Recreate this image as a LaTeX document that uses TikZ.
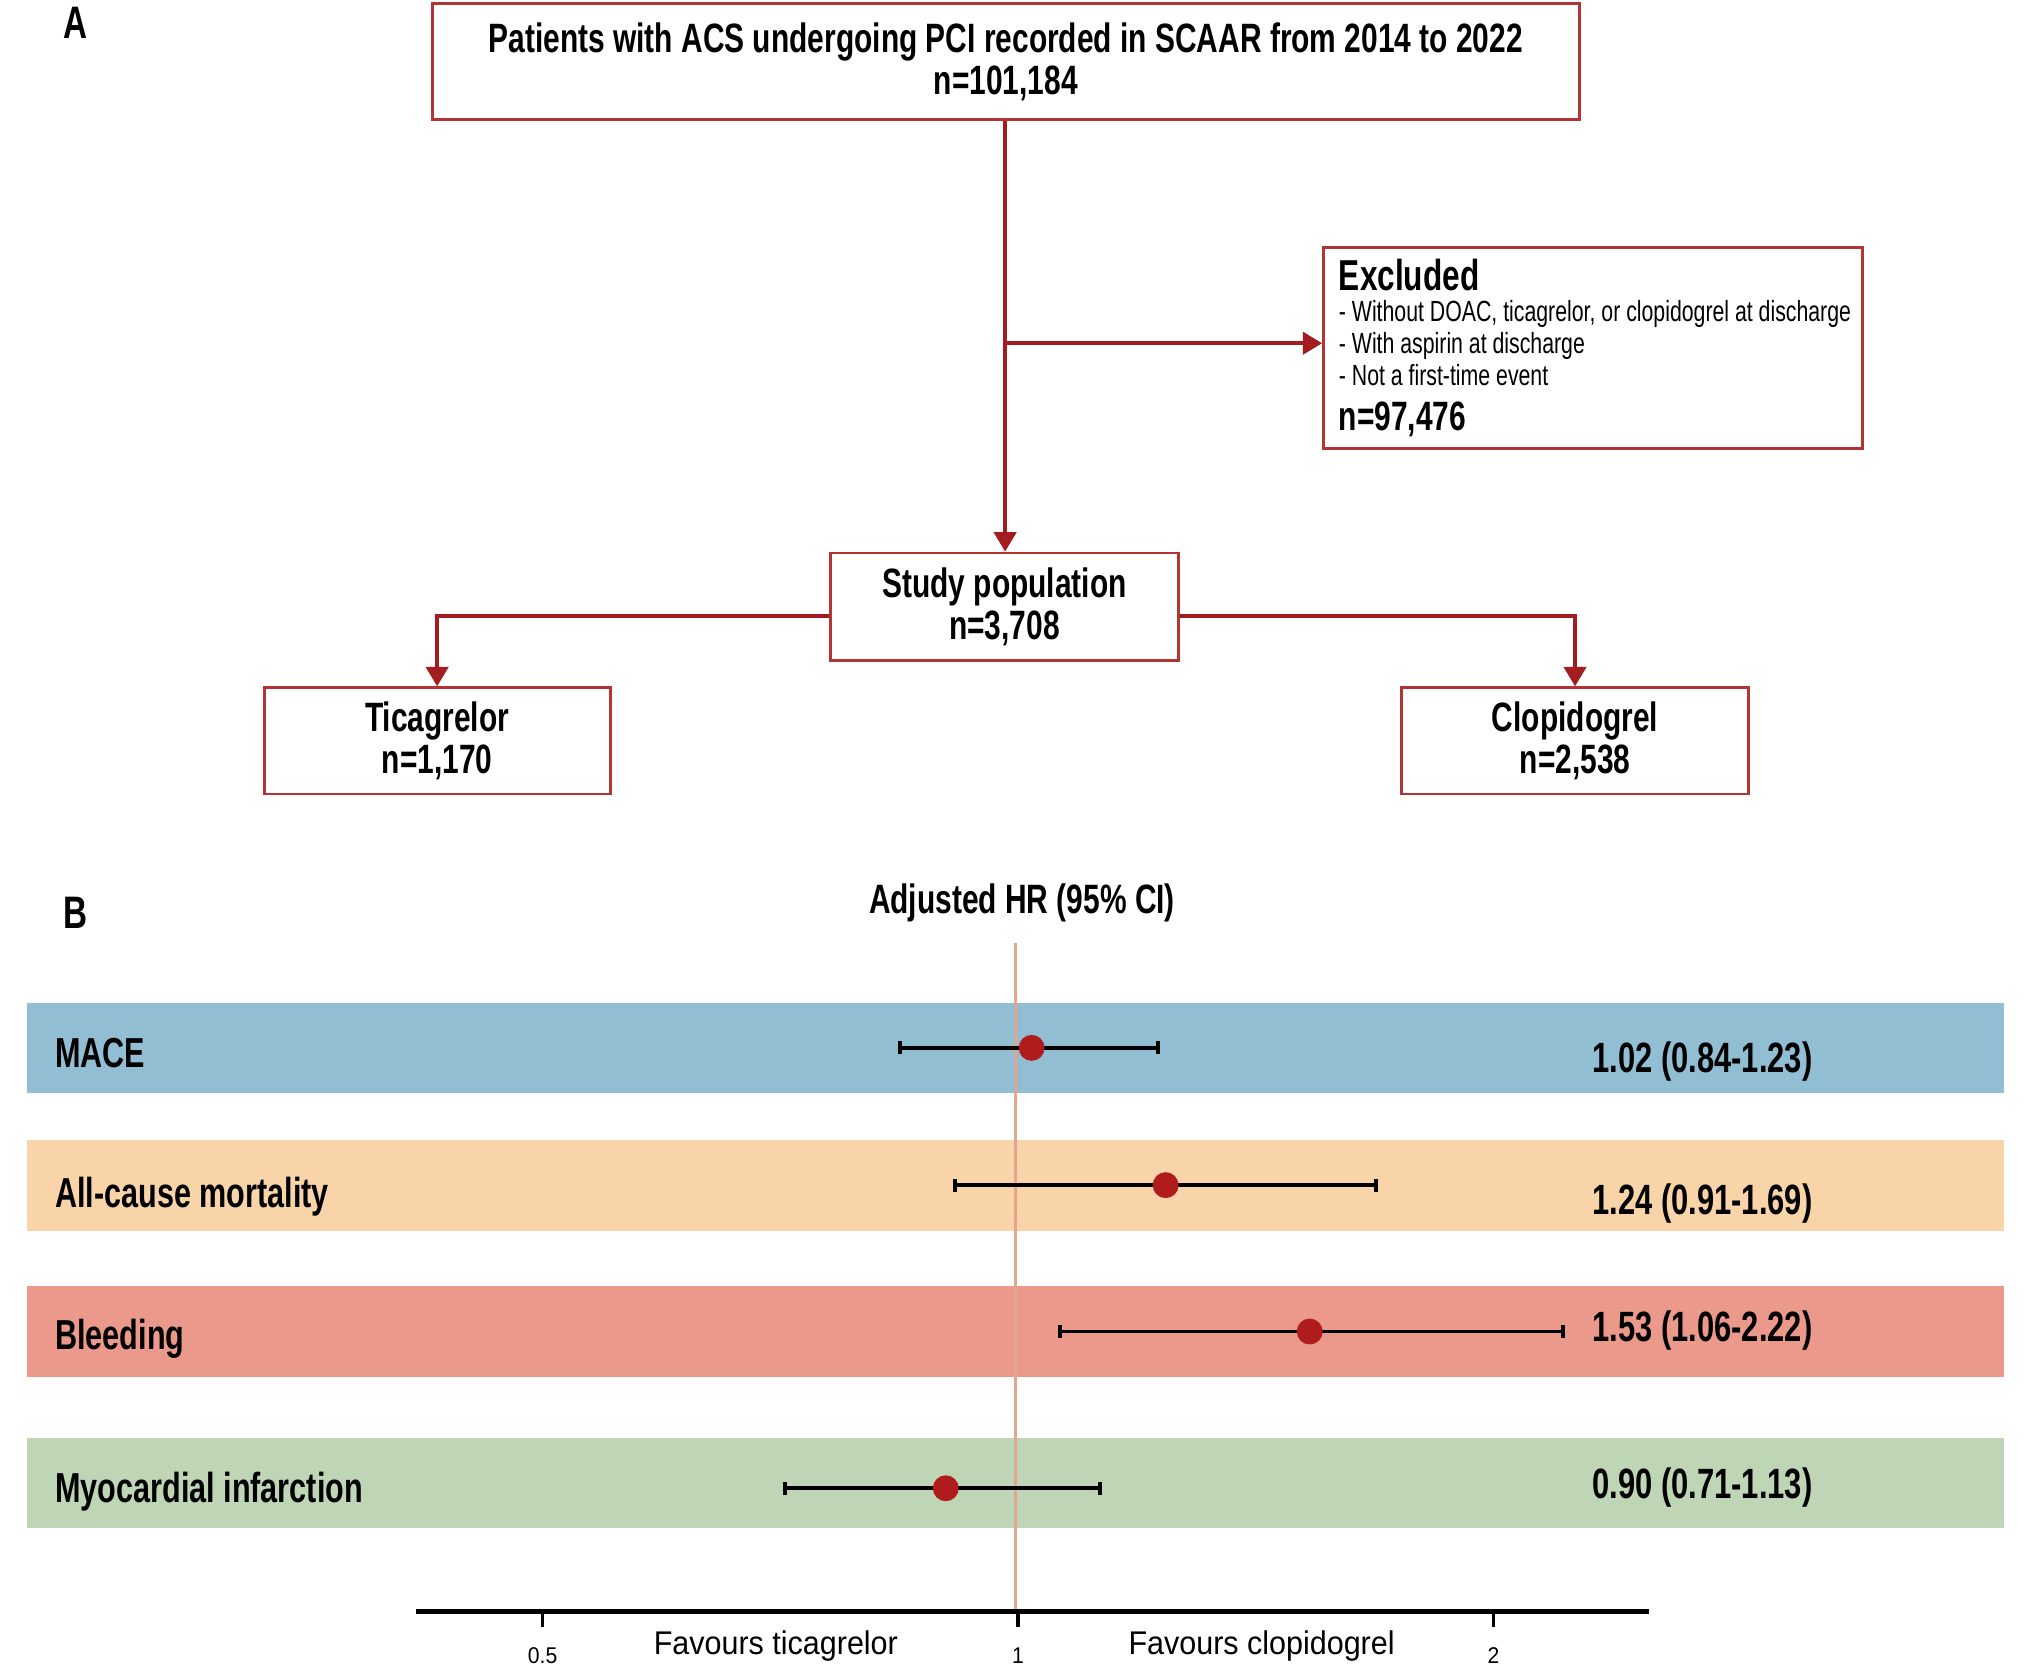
\documentclass[tikz,border=0pt]{standalone}
\usepackage{fontspec}
\setmainfont{Liberation Sans}[FakeStretch=0.73]
\newfontfamily\axisfont{Liberation Sans}[FakeStretch=0.93]
\usetikzlibrary{arrows.meta,positioning}
\definecolor{flowred}{RGB}{163,28,32}
\definecolor{boxred}{RGB}{178,52,52}
\definecolor{dotred}{RGB}{176,28,28}
\definecolor{refline}{RGB}{227,165,143}
\definecolor{bandblue}{RGB}{146,190,211}
\definecolor{bandpeach}{RGB}{250,212,169}
\definecolor{bandsalmon}{RGB}{234,153,139}
\definecolor{bandgreen}{RGB}{190,214,182}
\newcommand{\hrpos}[1]{786+367*ln(#1)/ln(2)}
\begin{document}
\begin{tikzpicture}[x=0.01cm,y=-0.01cm,
    box/.style={draw=boxred, line width=0.6pt, fill=white, align=center, inner sep=0pt,
      font=\fontsize{9}{9.2}\selectfont\bfseries},
    link/.style={draw=flowred, line width=0.9pt, -{Triangle[width=0.17cm,length=0.15cm]}},
    panel/.style={font=\fontsize{10}{10}\selectfont\bfseries},
    rowlab/.style={anchor=base west, inner sep=0pt, font=\fontsize{9.2}{10}\selectfont\bfseries},
    rowval/.style={anchor=base east, inner sep=0pt, font=\fontsize{9.3}{10}\selectfont\bfseries},
    whisker/.style={line width=0.8pt, {Bar[width=0.1cm]}-{Bar[width=0.1cm]}},
    tick/.style={font=\axisfont\fontsize{5}{5}\selectfont, inner sep=0pt}]
  \useasboundingbox (0,0) rectangle (1568,1289);

  % Panel A: flow chart
  \node[panel] (labA) at (58,18) {A};
  \node[box, minimum width=8.85cm, minimum height=0.89cm] (top) at (776.5,47.5)
    {Patients with ACS undergoing PCI recorded in SCAAR from 2014 to 2022\\n=101,184};
  \node[box, minimum width=4.16cm, minimum height=1.55cm] (excl) at (1230,268.5) {};
  \node[anchor=base west, inner sep=0pt, font=\fontsize{9.5}{10}\selectfont\bfseries] (exhead) at (1033,224) {Excluded};
  \node[anchor=base west, inner sep=0pt, font=\fontsize{6.4}{7}\selectfont] (exa) at (1033,248) {- Without DOAC, ticagrelor, or clopidogrel at discharge};
  \node[anchor=base west, inner sep=0pt, font=\fontsize{6.4}{7}\selectfont] (exb) at (1033,273) {- With aspirin at discharge};
  \node[anchor=base west, inner sep=0pt, font=\fontsize{6.4}{7}\selectfont] (exc) at (1033,298) {- Not a first-time event};
  \node[anchor=base west, inner sep=0pt, font=\fontsize{9}{10}\selectfont\bfseries] (exn) at (1033,332) {n=97,476};
  \node[box, minimum width=2.69cm, minimum height=0.83cm] (study) at (775.5,468.5)
    {Study population\\n=3,708};
  \node[box, minimum width=2.67cm, minimum height=0.82cm] (tica) at (337.5,572)
    {Ticagrelor\\n=1,170};
  \node[box, minimum width=2.68cm, minimum height=0.82cm] (clopi) at (1216,572)
    {Clopidogrel\\n=2,538};

  \coordinate (branch) at (776,265);
  \draw[link] (top.south -| branch) -- (study.north -| branch);
  \draw[link] (branch) -- (excl.west |- branch);
  \draw[link] ([yshift=-0.07cm]study.west) -| (tica.north);
  \draw[link] ([yshift=-0.07cm]study.east) -| (clopi.north);

  % Panel B: forest plot
  \node[panel] (labB) at (58,705) {B};
  \node[font=\fontsize{9}{10}\selectfont\bfseries] (hrtitle) at (789,697) {Adjusted HR (95\% CI)};

  \fill[bandblue]   (21,774)  rectangle (1547,844);
  \fill[bandpeach]  (21,880)  rectangle (1547,950);
  \fill[bandsalmon] (21,993)  rectangle (1547,1063);
  \fill[bandgreen]  (21,1110) rectangle (1547,1180);

  \draw[refline, line width=0.6pt] (784,728) -- (784,1243);

  \foreach \i/\lab/\ly/\dy/\hr/\lo/\hi/\vy/\txt in {
      1/MACE/824/809/1.02/0.84/1.23/828/1.02 (0.84-1.23),
      2/All-cause mortality/932/915/1.24/0.91/1.69/938/1.24 (0.91-1.69),
      3/Bleeding/1042/1028/1.53/1.06/2.22/1036/1.53 (1.06-2.22),
      4/Myocardial infarction/1160/1149/0.90/0.71/1.13/1157/0.90 (0.71-1.13)} {
    \node[rowlab] (row\i) at (42,\ly) {\lab};
    \node[rowval] (val\i) at (1400,\vy) {\txt};
    \draw[whisker] ({\hrpos{\lo}},\dy) -- ({\hrpos{\hi}},\dy);
    \fill[dotred] ({\hrpos{\hr}},\dy) circle (10);
  }

  % axis
  \draw[line width=1pt] (321,1244) -- (1273,1244);
  \foreach \v/\name in {0.5/half,1/one,2/two} {
    \draw[line width=0.8pt] ({\hrpos{\v}},1244) -- ({\hrpos{\v}},1256);
    \node[tick] (tick\name) at ({\hrpos{\v}},1278) {\v};
  }
  \node[font=\axisfont\fontsize{7.2}{8}\selectfont] (favt) at (599,1271) {Favours ticagrelor};
  \node[font=\axisfont\fontsize{7.2}{8}\selectfont] (favc) at (974,1271) {Favours clopidogrel};
\end{tikzpicture}
\end{document}
